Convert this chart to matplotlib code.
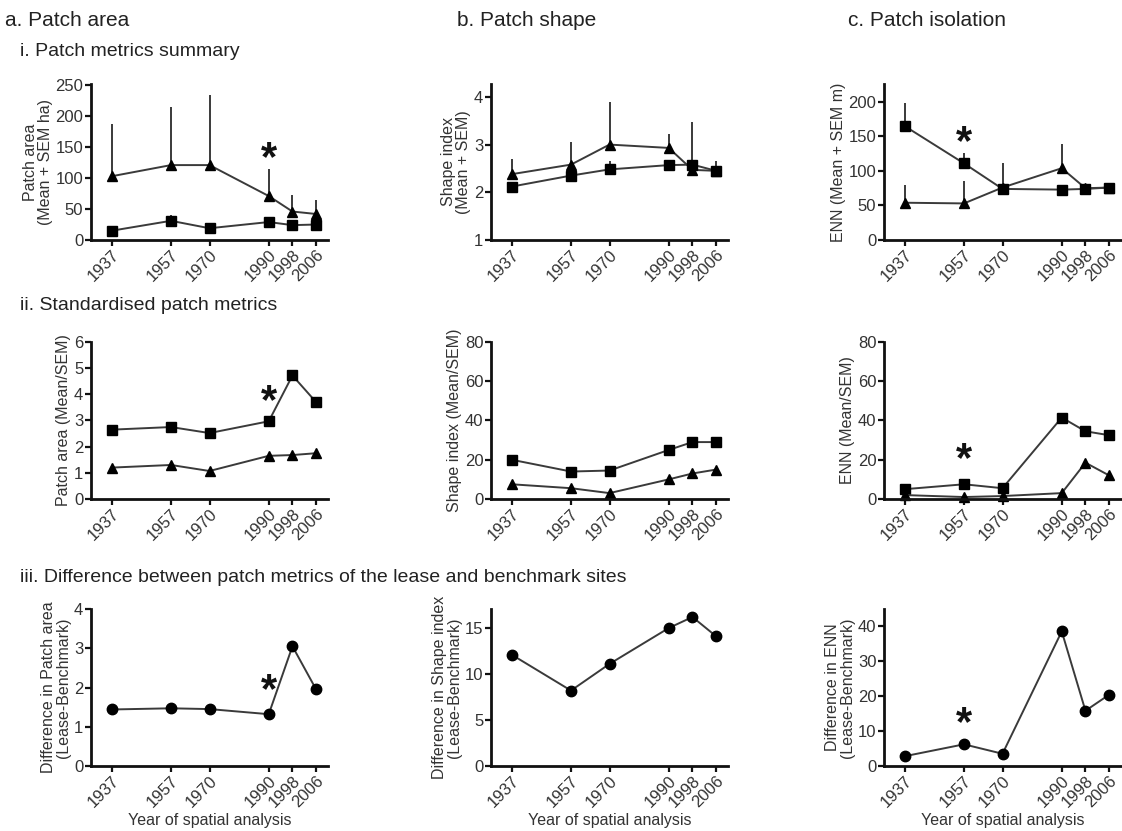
import numpy as np
import matplotlib.pyplot as plt

plt.rcParams['font.family'] = ['Liberation Sans', 'DejaVu Sans']

years = [1937, 1957, 1970, 1990, 1998, 2006]

# i. patch metrics summary (mean values and upper end of the SEM bar)
area_tri = [103, 121, 121, 71, 46, 42]
area_tri_top = [188, 215, 235, 115, 73, 65]
area_sq = [15, 31, 19, 29, 24, 25]
area_sq_top = [15, 40, 19, 37, 24, 25]

shape_tri = [2.38, 2.58, 3.0, 2.93, 2.47, 2.45]
shape_tri_top = [2.7, 3.05, 3.9, 3.22, 2.47, 2.65]
shape_sq = [2.12, 2.35, 2.48, 2.57, 2.58, 2.45]
shape_sq_top = [2.12, 2.35, 2.65, 2.57, 3.47, 2.45]

enn_tri = [54, 53, 76, 104, 75, 76]
enn_tri_top = [80, 86, 111, 139, 75, 76]
enn_sq = [165, 111, 74, 73, 74, 76]
enn_sq_top = [198, 126, 74, 73, 74, 76]

# ii. standardised patch metrics (mean/SEM)
std_area_sq = [2.65, 2.75, 2.52, 2.97, 4.72, 3.7]
std_area_tri = [1.2, 1.3, 1.07, 1.65, 1.68, 1.75]
std_shape_sq = [20, 14, 14.5, 25, 29, 29]
std_shape_tri = [7.5, 5.5, 3, 10, 13, 15]
std_enn_sq = [5, 7.5, 5.5, 41.5, 34.5, 32.5]
std_enn_tri = [2, 1, 1.5, 3, 18.5, 12]

# iii. difference lease - benchmark
diff_area = [1.44, 1.47, 1.45, 1.32, 3.05, 1.95]
diff_shape = [12.1, 8.2, 11.1, 15.0, 16.2, 14.1]
diff_enn = [2.8, 6.2, 3.5, 38.5, 15.8, 20.4]

W, H = 1122, 831
INK = '#222222'
LINE = '#3a3a3a'

fig = plt.figure(figsize=(W / 100, H / 100), dpi=100)


def make_axes(left, top, right, bottom):
    return fig.add_axes([left / W, 1 - bottom / H, (right - left) / W, (bottom - top) / H])


def style(ax, ylim, yticks, ylabel, xlabel=None):
    ax.set_xlim(1930, 2010)
    ax.set_ylim(*ylim)
    ax.set_xticks(years)
    ax.set_xticklabels([str(y) for y in years], rotation=45, ha='right',
                       rotation_mode='anchor')
    ax.set_yticks(yticks)
    for s in ['top', 'right']:
        ax.spines[s].set_visible(False)
    for s in ['left', 'bottom']:
        ax.spines[s].set_linewidth(2.0)
        ax.spines[s].set_color('#111111')
    ax.tick_params(direction='out', length=4.5, width=1.6, color='#111111',
                   labelsize=12, labelcolor='#333333', pad=1)
    ax.set_ylabel(ylabel, fontsize=11.5, color='#333333', labelpad=2, linespacing=1.0)
    if xlabel:
        ax.set_xlabel(xlabel, fontsize=11.5, color='#333333', labelpad=2)


def summary(ax, mean, top, marker, ms):
    mean = np.array(mean)
    top = np.array(top)
    ax.errorbar(years, mean, yerr=[np.zeros_like(mean), top - mean], fmt='none',
                ecolor=LINE, elinewidth=1.4, capsize=0, zorder=2)
    ax.plot(years, mean, color=LINE, lw=1.4, marker=marker, ms=ms,
            mfc='black', mec='black', zorder=3, clip_on=False)


def star(ax, x, y):
    ax.text(x, y, '*', fontsize=30, fontweight='bold', ha='center', va='center',
            color='#111111')


cols = [(91, 328), (491, 728), (884, 1121)]
rows = [(84, 240), (342, 499), (609, 766)]

# row i
ax = make_axes(cols[0][0], rows[0][0], cols[0][1], rows[0][1])
summary(ax, area_tri, area_tri_top, '^', 7)
summary(ax, area_sq, area_sq_top, 's', 7.5)
style(ax, (0, 252), range(0, 251, 50), 'Patch area\n(Mean + SEM ha)')
star(ax, 1990, 130)

ax = make_axes(cols[1][0], rows[0][0], cols[1][1], rows[0][1])
summary(ax, shape_tri, shape_tri_top, '^', 7)
summary(ax, shape_sq, shape_sq_top, 's', 7.5)
style(ax, (1, 4.27), [1, 2, 3, 4], 'Shape index\n(Mean + SEM)')

ax = make_axes(cols[2][0], rows[0][0], cols[2][1], rows[0][1])
summary(ax, enn_tri, enn_tri_top, '^', 7)
summary(ax, enn_sq, enn_sq_top, 's', 7.5)
style(ax, (0, 226), range(0, 201, 50), 'ENN (Mean + SEM m)')
star(ax, 1957, 140)

# row ii
ax = make_axes(cols[0][0], rows[1][0], cols[0][1], rows[1][1])
ax.plot(years, std_area_sq, color=LINE, lw=1.4, marker='s', ms=7.5, mfc='black', mec='black')
ax.plot(years, std_area_tri, color=LINE, lw=1.4, marker='^', ms=7, mfc='black', mec='black')
style(ax, (0, 6), range(0, 7), 'Patch area (Mean/SEM)')
star(ax, 1990, 3.7)

ax = make_axes(cols[1][0], rows[1][0], cols[1][1], rows[1][1])
ax.plot(years, std_shape_sq, color=LINE, lw=1.4, marker='s', ms=7.5, mfc='black', mec='black')
ax.plot(years, std_shape_tri, color=LINE, lw=1.4, marker='^', ms=7, mfc='black', mec='black')
style(ax, (0, 80), range(0, 81, 20), 'Shape index (Mean/SEM)')

ax = make_axes(cols[2][0], rows[1][0], cols[2][1], rows[1][1])
ax.plot(years, std_enn_sq, color=LINE, lw=1.4, marker='s', ms=7.5, mfc='black', mec='black')
ax.plot(years, std_enn_tri, color=LINE, lw=1.4, marker='^', ms=7, mfc='black', mec='black',
        clip_on=False)
style(ax, (0, 80), range(0, 81, 20), 'ENN (Mean/SEM)')
star(ax, 1957, 20)

# row iii
ax = make_axes(cols[0][0], rows[2][0], cols[0][1], rows[2][1])
ax.plot(years, diff_area, color=LINE, lw=1.4, marker='o', ms=7.5, mfc='black', mec='black')
style(ax, (0, 4), range(0, 5), 'Difference in Patch area\n(Lease-Benchmark)',
      'Year of spatial analysis')
star(ax, 1990, 1.9)

ax = make_axes(cols[1][0], rows[2][0], cols[1][1], rows[2][1])
ax.plot(years, diff_shape, color=LINE, lw=1.4, marker='o', ms=7.5, mfc='black', mec='black')
style(ax, (0, 17.07), range(0, 16, 5), 'Difference in Shape index\n(Lease-Benchmark)',
      'Year of spatial analysis')

ax = make_axes(cols[2][0], rows[2][0], cols[2][1], rows[2][1])
ax.plot(years, diff_enn, color=LINE, lw=1.4, marker='o', ms=7.5, mfc='black', mec='black')
style(ax, (0, 44.9), range(0, 41, 10), 'Difference in ENN\n(Lease-Benchmark)',
      'Year of spatial analysis')
star(ax, 1957, 12)

# headings
fig.text(5 / W, 1 - 20 / H, 'a. Patch area', fontsize=15, color=INK, va='center')
fig.text(457 / W, 1 - 20 / H, 'b. Patch shape', fontsize=15, color=INK, va='center')
fig.text(848 / W, 1 - 20 / H, 'c. Patch isolation', fontsize=15, color=INK, va='center')
fig.text(20 / W, 1 - 52 / H, 'i. Patch metrics summary', fontsize=14, color=INK, va='center')
fig.text(20 / W, 1 - 306 / H, 'ii. Standardised patch metrics', fontsize=14, color=INK,
         va='center')
fig.text(20 / W, 1 - 578 / H,
         'iii. Difference between patch metrics of the lease and benchmark sites',
         fontsize=14, color=INK, va='center')

fig.savefig('out.png', dpi=100)
